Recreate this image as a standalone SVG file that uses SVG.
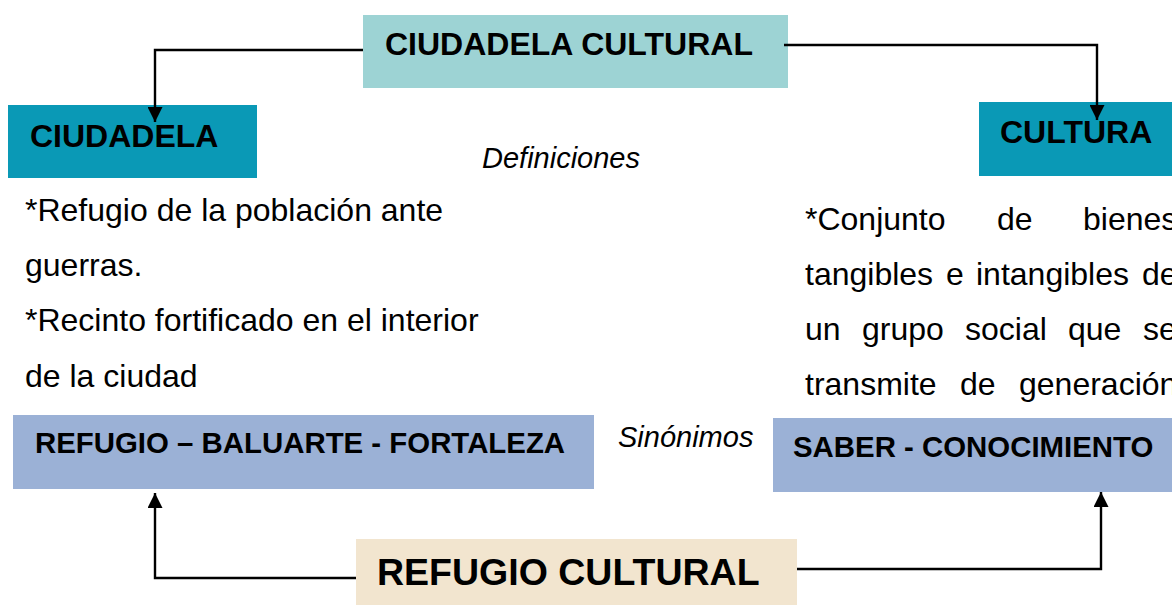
<svg xmlns="http://www.w3.org/2000/svg" width="1172" height="605" viewBox="0 0 1172 605">
<defs>
<style>
.t{font-family:"Liberation Sans",Arial,sans-serif;fill:#000}
.h{font-weight:bold;font-size:32px}
.s{font-weight:bold;font-size:29.4px}
.i{font-style:italic;font-size:29px}
.b{font-size:32px}
.c{fill:none;stroke:#000;stroke-width:2.4}
</style>
<marker id="ar" viewBox="0 0 10 10" refX="10" refY="5" markerWidth="15" markerHeight="15" markerUnits="userSpaceOnUse" orient="auto">
<path d="M0,0 L10,5 L0,10 z" fill="#000"/>
</marker>
</defs>
<rect width="1172" height="605" fill="#fff"/>
<g id="n-ciudadela-cultural">
<rect x="363" y="15" width="425" height="73" fill="#9dd3d4"/>
<text class="t h" x="385" y="55">CIUDADELA CULTURAL</text>
</g>
<g id="n-ciudadela">
<rect x="8" y="105" width="249" height="73" fill="#0a99b6"/>
<text class="t h" x="30" y="147">CIUDADELA</text>
</g>
<g id="n-cultura">
<rect x="979" y="102" width="193" height="74" fill="#0a99b6"/>
<text class="t h" x="1000" y="143">CULTURA</text>
</g>
<g id="l-definiciones">
<text class="t i" x="482" y="168">Definiciones</text>
</g>
<g id="d-ciudadela">
<text class="t b" x="25" y="221">*Refugio de la población ante</text>
<text class="t b" x="25" y="276">guerras.</text>
<text class="t b" x="25" y="331">*Recinto fortificado en el interior</text>
<text class="t b" x="25" y="387">de la ciudad</text>
</g>
<g id="d-cultura">
<text class="t b" y="230"><tspan x="805">*Conjunto</tspan><tspan x="997">de</tspan><tspan x="1083">bienes</tspan></text>
<text class="t b" y="285"><tspan x="805">tangibles</tspan><tspan x="946">e</tspan><tspan x="976">intangibles</tspan><tspan x="1142">de</tspan></text>
<text class="t b" y="340"><tspan x="805">un</tspan><tspan x="862">grupo</tspan><tspan x="965">social</tspan><tspan x="1068">que</tspan><tspan x="1143">se</tspan></text>
<text class="t b" y="395"><tspan x="805">transmite</tspan><tspan x="960">de</tspan><tspan x="1019">generación</tspan></text>
</g>
<g id="n-sin-ciudadela">
<rect x="13" y="415" width="581" height="74" fill="#9bb1d6"/>
<text class="t s" x="35" y="453">REFUGIO – BALUARTE - FORTALEZA</text>
</g>
<g id="l-sinonimos">
<text class="t i" x="618" y="447">Sinónimos</text>
</g>
<g id="n-sin-cultura">
<rect x="773" y="418" width="399" height="74" fill="#9bb1d6"/>
<text class="t s" x="793" y="457">SABER - CONOCIMIENTO</text>
</g>
<g id="n-refugio-cultural">
<rect x="356" y="539" width="441" height="66" fill="#f2e5cf"/>
<text class="t" x="377" y="585" style="font-weight:bold;font-size:37.5px">REFUGIO CULTURAL</text>
</g>
<g id="connectors">
<path class="c" d="M363,50 H155 V122" marker-end="url(#ar)"/>
<path class="c" d="M784,45 H1097 V120" marker-end="url(#ar)"/>
<path class="c" d="M356,578 H155 V493" marker-end="url(#ar)"/>
<path class="c" d="M797,569 H1101 V492" marker-end="url(#ar)"/>
</g>
</svg>
